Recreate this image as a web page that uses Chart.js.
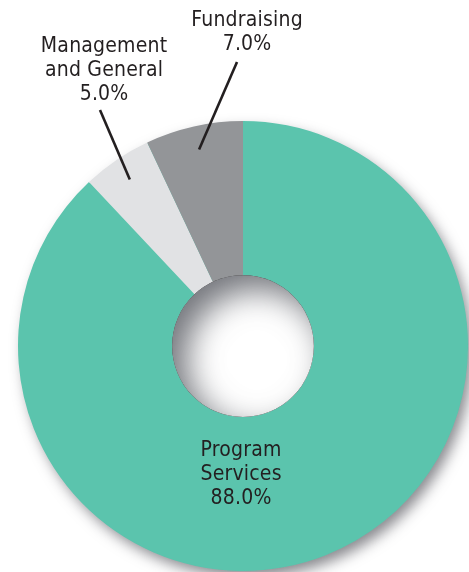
<!DOCTYPE html>
<html>
<head>
<meta charset="utf-8">
<script src="https://cdn.jsdelivr.net/npm/chart.js@4"></script>
<style>
html,body{margin:0;padding:0;background:#fff;}
#wrap{width:469px;height:572px;}
</style>
</head>
<body>
<div id="wrap"><canvas id="c" width="469" height="572"></canvas></div>
<script>
const categories = ["Program Services", "Management and General", "Fundraising"];
const labelLines = [["Program", "Services"], ["Management", "and General"], ["Fundraising"]];
const values = [88.0, 5.0, 7.0];
const colors = ["#5bc4ad", "#e1e2e4", "#939598"];

const FONT = '21px "DejaVu Sans Condensed", "Liberation Sans", Arial, sans-serif';
const LS = 0.2;

const shadowPlugin = {
  id: 'shadowPlugin',
  beforeDatasetsDraw(chart) {
    const arc = chart.getDatasetMeta(0).data[0];
    if (!arc) return;
    const {x, y, outerRadius, innerRadius} = arc;
    const ctx = chart.ctx;
    ctx.save();
    ctx.shadowColor = 'rgba(40,40,50,0.55)';
    ctx.shadowBlur = 14;
    ctx.shadowOffsetX = 5;
    ctx.shadowOffsetY = 7;
    ctx.beginPath();
    ctx.arc(x, y, outerRadius - 1, 0, Math.PI * 2);
    ctx.arc(x, y, innerRadius + 1, 0, Math.PI * 2, true);
    ctx.fillStyle = '#5bc4ad';
    ctx.fill();
    ctx.restore();
  },
  afterDatasetsDraw(chart) {
    const meta = chart.getDatasetMeta(0);
    const arc0 = meta.data[0];
    if (!arc0) return;
    const {x, y, outerRadius, innerRadius} = arc0;
    const ctx = chart.ctx;
    // inner shadow in the hole
    ctx.save();
    ctx.beginPath();
    ctx.arc(x, y, innerRadius, 0, Math.PI * 2);
    ctx.clip();
    ctx.fillStyle = '#fff';
    ctx.fillRect(x - innerRadius, y - innerRadius, innerRadius * 2, innerRadius * 2);
    ctx.shadowColor = 'rgba(70,72,80,0.75)';
    ctx.shadowBlur = 32;
    ctx.shadowOffsetX = 14;
    ctx.shadowOffsetY = 14;
    ctx.beginPath();
    ctx.arc(x, y, innerRadius + 80, 0, Math.PI * 2);
    ctx.arc(x, y, innerRadius, 0, Math.PI * 2, true);
    ctx.fillStyle = '#000';
    ctx.fill();
    ctx.restore();

    // labels
    ctx.save();
    ctx.font = FONT;
    if ('letterSpacing' in ctx) ctx.letterSpacing = LS + 'px';
    ctx.fillStyle = '#231f20';
    ctx.textAlign = 'center';
    ctx.textBaseline = 'alphabetic';
    const lh = 24;
    const dx = LS / 2;
    // Program Services, inside the ring below the hole
    const p0 = labelLines[0].concat([values[0].toFixed(1) + '%']);
    p0.forEach((t, i) => ctx.fillText(t, x - 2 + dx, y + 110 + i * lh));

    // outside labels with leader lines
    const outside = [
      {idx: 1, tx: x - 139, ty: y - 294, lx: x - 143, ly: y - 236},
      {idx: 2, tx: x + 4, ty: y - 320, lx: x - 6, ly: y - 284}
    ];
    outside.forEach(o => {
      const a = meta.data[o.idx];
      const mid = (a.startAngle + a.endAngle) / 2;
      const r = a.outerRadius * 0.895;
      const px = a.x + Math.cos(mid) * r;
      const py = a.y + Math.sin(mid) * r;
      ctx.strokeStyle = '#231f20';
      ctx.lineWidth = 2.6;
      ctx.beginPath();
      ctx.moveTo(o.lx, o.ly);
      ctx.lineTo(px, py);
      ctx.stroke();
      const lines = labelLines[o.idx].concat([values[o.idx].toFixed(1) + '%']);
      lines.forEach((t, i) => ctx.fillText(t, o.tx + dx, o.ty + i * lh));
    });
    ctx.restore();
  }
};

new Chart(document.getElementById('c'), {
  type: 'doughnut',
  data: {
    labels: categories,
    datasets: [{
      data: values,
      backgroundColor: colors,
      borderWidth: 0,
      hoverOffset: 0,
      offset: 0
    }]
  },
  options: {
    responsive: false,
    animation: false,
    cutout: '31.5%',
    layout: {padding: {left: 18, top: 121, right: 1, bottom: 1}},
    plugins: {legend: {display: false}, tooltip: {enabled: false}}
  },
  plugins: [shadowPlugin]
});
</script>
</body>
</html>
